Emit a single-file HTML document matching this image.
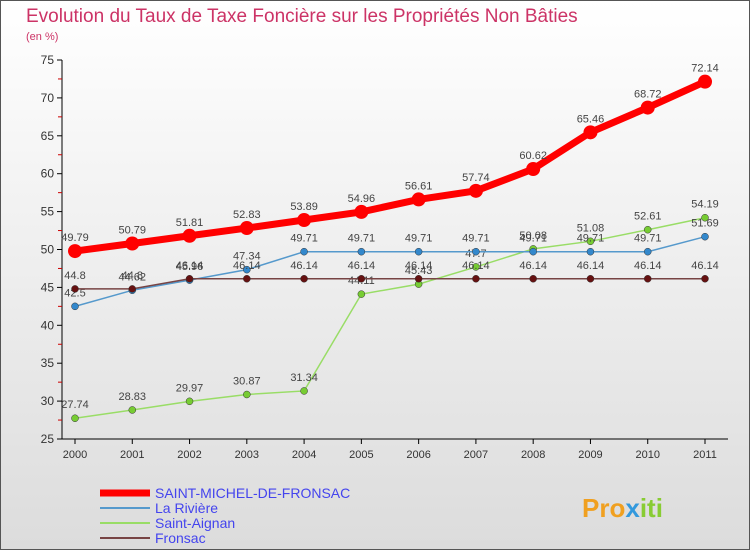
<!DOCTYPE html>
<html><head><meta charset="utf-8"><style>
body{margin:0;width:750px;height:550px;overflow:hidden;font-family:"Liberation Sans",sans-serif}
svg text{font-family:"Liberation Sans",sans-serif}
</style></head><body>
<svg id="c" width="750" height="550">
<defs><linearGradient id="bg" x1="0" y1="0" x2="0" y2="1"><stop offset="0" stop-color="#ffffff"/><stop offset="1" stop-color="#dcdcdc"/></linearGradient></defs>
<rect x="0.5" y="0.5" width="749" height="549" fill="url(#bg)" stroke="#555"/>
<text x="26" y="22" font-size="19" fill="#cc3366">Evolution du Taux de Taxe Foncière sur les Propriétés Non Bâties</text>
<text x="26" y="40" font-size="11" fill="#cc3366">(en %)</text>
<g id="axes"></g><g id="series"></g><g id="legend"></g>
<text x="582" y="517" font-size="26" font-weight="bold" fill="#f0a020">Pro<tspan fill="#3399dd">x</tspan><tspan fill="#88cc33">iti</tspan></text>
</svg>
<script>
const years=["2000","2001","2002","2003","2004","2005","2006","2007","2008","2009","2010","2011"];
const yTicks=[25,30,35,40,45,50,55,60,65,70,75];
const smf=[49.79,50.79,51.81,52.83,53.89,54.96,56.61,57.74,60.62,65.46,68.72,72.14];
const riviere=[42.5,44.62,45.96,47.34,49.71,49.71,49.71,49.71,49.71,49.71,49.71,51.69];
const aignan=[27.74,28.83,29.97,30.87,31.34,44.11,45.43,47.7,50.08,51.08,52.61,54.19];
const fronsac=[44.8,44.8,46.14,46.14,46.14,46.14,46.14,46.14,46.14,46.14,46.14,46.14];
const NS="http://www.w3.org/2000/svg";
const X=i=>75+i*(705-75)/11;
const Y=v=>439-(v-25)*(439-60)/50;
function el(t,a,p){const e=document.createElementNS(NS,t);for(const k in a)e.setAttribute(k,a[k]);p.appendChild(e);return e;}
const ax=document.getElementById('axes');
let e=el('line',{x1:62,y1:Y(75),x2:62,y2:Y(25),stroke:'#000'},ax);


e=el('line',{x1:62,y1:Y(25),x2:728,y2:Y(25),stroke:'#000'},ax);


yTicks.forEach(v=>{
 el('line',{x1:57,x2:62,y1:Y(v),y2:Y(v),stroke:'#000'},ax);
 if(v<75)el('line',{x1:58,x2:62,y1:Y(v+2.5),y2:Y(v+2.5),stroke:'#c00'},ax);
 const t=el('text',{x:54,y:Y(v)+4,'font-size':12,fill:'#333','text-anchor':'end'},ax);t.textContent=v;
 
 
});
years.forEach((y,i)=>{
 el('line',{x1:X(i),x2:X(i),y1:Y(25),y2:Y(25)+5,stroke:'#000'},ax);
 const t=el('text',{x:X(i),y:Y(25)+19,'font-size':11,fill:'#333','text-anchor':'middle'},ax);t.textContent=y;
 
 
});
const sg=document.getElementById('series');
function draw(data,color,lw,r,name,dot){
 const g=el('g',{},sg);
 
 
 el('polyline',{points:data.map((v,i)=>X(i)+','+Y(v)).join(' '),fill:'none',stroke:color,'stroke-width':lw},g);
 data.forEach((v,i)=>{
  const c=el('circle',{cx:X(i),cy:Y(v),r:r,fill:dot||color,stroke:'#333','stroke-width':r>5?0:0.5},g);
  
  
  const t=el('text',{x:X(i),y:Y(v)-10,'font-size':11,fill:'#444','text-anchor':'middle'},g);t.textContent=v;
  
  
 });
}
draw(aignan,'#99dd66',1.5,3.5,'saint-aignan-series','#77cc33');
draw(riviere,'#5599cc',1.5,3.5,'la-riviere-series','#3388cc');
draw(fronsac,'#774444',1.5,3.5,'fronsac-series','#661111');
draw(smf,'#ff0000',7,7,'saint-michel-series');
const lg=document.getElementById('legend');
const items=[["SAINT-MICHEL-DE-FRONSAC","#ff0000",7],["La Rivière","#5599cc",2],["Saint-Aignan","#99dd66",2],["Fronsac","#774444",2]];
items.forEach((it,i)=>{
 const yy=493+i*15;
 const l=el('line',{x1:100,x2:150,y1:yy,y2:yy,stroke:it[1],'stroke-width':it[2]},lg);
 
 
 const t=el('text',{x:155,y:yy+5,'font-size':14,fill:'#4444ee'},lg);t.textContent=it[0];
 
 
});
</script>
</body></html>
